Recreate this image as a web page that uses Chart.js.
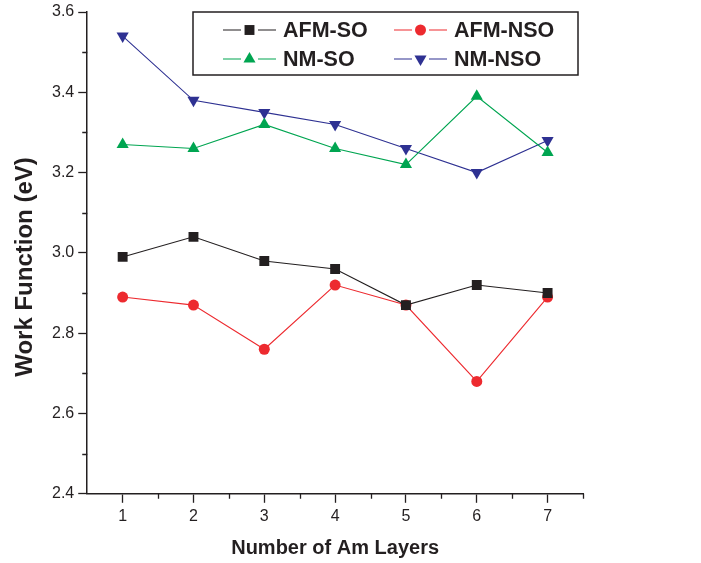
<!DOCTYPE html>
<html><head><meta charset="utf-8">
<script src="https://cdn.jsdelivr.net/npm/chart.js@4.4.0/dist/chart.umd.min.js"></script>
<style>html,body{margin:0;padding:0;background:#fff}#wrap{width:701px;height:563px}</style>
</head><body><div id="wrap"><canvas id="c" width="701" height="563"></canvas></div>
<script>
const layers = [1, 2, 3, 4, 5, 6, 7];
const afmSO  = [2.99, 3.04, 2.98, 2.96, 2.87, 2.92, 2.90];
const afmNSO = [2.89, 2.87, 2.76, 2.92, 2.87, 2.68, 2.89];
const nmSO   = [3.27, 3.26, 3.32, 3.26, 3.22, 3.39, 3.25];
const nmNSO  = [3.54, 3.38, 3.35, 3.32, 3.26, 3.20, 3.28];
const seriesNames = ['AFM-SO', 'AFM-NSO', 'NM-SO', 'NM-NSO'];
const yTickLabels = ['2.4','2.6','2.8','3.0','3.2','3.4','3.6'];
const xTitle = 'Number of Am Layers';
const yTitle = 'Work Function (eV)';

const INK = '#231f20';
const FONT = '"Liberation Sans", Arial, sans-serif';
const styles = [
  {color: INK, pointStyle: 'rect', radius: 7, rotation: 0},
  {color: '#ed2a2f', pointStyle: 'circle', radius: 5.5, rotation: 0},
  {color: '#00a551', pointStyle: 'triangle', radius: 7, rotation: 0},
  {color: '#2e3192', pointStyle: 'triangle', radius: 7, rotation: 180}
];
const allSeries = [afmSO, afmNSO, nmSO, nmNSO];

const datasets = allSeries.map((vals, i) => ({
  label: seriesNames[i],
  data: layers.map((x, j) => ({x: x, y: vals[j]})),
  borderColor: styles[i].color,
  backgroundColor: styles[i].color,
  pointBackgroundColor: styles[i].color,
  pointBorderColor: styles[i].color,
  pointBorderWidth: 0,
  borderWidth: 1.1,
  pointStyle: styles[i].pointStyle,
  pointRadius: styles[i].radius,
  pointRotation: styles[i].rotation,
  pointHoverRadius: styles[i].radius,
  tension: 0
}));

function drawMarker(ctx, st, x, y) {
  ctx.save();
  ctx.fillStyle = st.color;
  ctx.beginPath();
  const r = st.radius;
  if (st.pointStyle === 'rect') {
    const s = Math.SQRT1_2 * r;
    ctx.rect(x - s, y - s, 2 * s, 2 * s);
  } else if (st.pointStyle === 'circle') {
    ctx.arc(x, y, r, 0, Math.PI * 2);
  } else {
    const rot = st.rotation * Math.PI / 180;
    for (let k = 0; k < 3; k++) {
      const a = rot - Math.PI / 2 + k * 2 * Math.PI / 3;
      const px = x + Math.cos(a) * r, py = y + Math.sin(a) * r;
      if (k === 0) ctx.moveTo(px, py); else ctx.lineTo(px, py);
    }
    ctx.closePath();
  }
  ctx.fill();
  ctx.restore();
}

const legendPlugin = {
  id: 'boxLegend',
  afterDraw(chart) {
    const ctx = chart.ctx;
    ctx.save();
    ctx.strokeStyle = INK;
    ctx.lineWidth = 1.5;
    ctx.fillStyle = '#fff';
    ctx.fillRect(193, 12, 385, 63);
    ctx.strokeRect(193, 12, 385, 63);
    const cols = [223, 394];
    const rows = [30, 59];
    chart.data.datasets.forEach((ds, i) => {
      const x0 = cols[i % 2], y = rows[Math.floor(i / 2)];
      const st = styles[i];
      ctx.strokeStyle = st.color;
      ctx.lineWidth = 1.1;
      ctx.beginPath();
      ctx.moveTo(x0, y); ctx.lineTo(x0 + 18, y);
      ctx.moveTo(x0 + 35, y); ctx.lineTo(x0 + 53, y);
      ctx.stroke();
      drawMarker(ctx, st, x0 + 26.5, y);
      ctx.fillStyle = INK;
      ctx.font = 'bold 21.5px ' + FONT;
      ctx.textBaseline = 'middle';
      ctx.textAlign = 'left';
      ctx.fillText(ds.label, x0 + 60, y + 1);
    });
    ctx.restore();
  }
};

const extras = {
  id: 'extras',
  afterDraw(chart) {
    const ctx = chart.ctx;
    const xs = chart.scales.x, ys = chart.scales.y;
    ctx.save();
    ctx.strokeStyle = INK;
    ctx.lineWidth = 1.3;
    ctx.beginPath();
    for (let v = 2.5; v < 3.6; v += 0.2) {
      const p = Math.round(ys.getPixelForValue(v)) + 0.5;
      ctx.moveTo(ys.right - 5, p); ctx.lineTo(ys.right, p);
    }
    for (let v = 1.5; v <= 7.5; v += 1) {
      const p = Math.round(xs.getPixelForValue(v)) + 0.5;
      ctx.moveTo(p, xs.top); ctx.lineTo(p, xs.top + 5);
    }
    ctx.stroke();
    // y axis title
    ctx.translate(25, 267);
    ctx.rotate(-Math.PI / 2);
    ctx.fillStyle = INK;
    ctx.font = 'bold 24px ' + FONT;
    ctx.textAlign = 'center';
    ctx.textBaseline = 'middle';
    ctx.fillText(yTitle, 0, 0);
    ctx.restore();
  }
};

new Chart(document.getElementById('c'), {
  type: 'line',
  data: {datasets},
  options: {
    responsive: false,
    animation: false,
    events: [],
    layout: {padding: {top: 2, right: 118, left: 48, bottom: 3}},
    plugins: {legend: {display: false}, tooltip: {enabled: false}},
    scales: {
      x: {
        type: 'linear', min: 0.5, max: 7.5,
        afterBuildTicks: (s) => { s.ticks = layers.map(v => ({value: v})); },
        border: {display: true, color: INK, width: 1.5},
        grid: {drawOnChartArea: false, drawTicks: true, tickLength: 9, color: INK, tickWidth: 1.3},
        ticks: {color: INK, padding: 4, font: {family: FONT, size: 16}},
        title: {display: true, text: xTitle, color: INK, padding: {top: 6, bottom: 0},
          font: {family: FONT, size: 20, weight: 'bold'}}
      },
      y: {
        type: 'linear', min: 2.4, max: 3.6,
        afterBuildTicks: (s) => { s.ticks = yTickLabels.map(t => ({value: parseFloat(t)})); },
        border: {display: true, color: INK, width: 1.5},
        grid: {drawOnChartArea: false, drawTicks: true, tickLength: 9, color: INK, tickWidth: 1.3},
        ticks: {color: INK, padding: 4,
          callback: (v, i) => yTickLabels[i],
          font: {family: FONT, size: 16, lineHeight: 1}}
      }
    }
  },
  plugins: [extras, legendPlugin]
});
</script>
</body></html>
